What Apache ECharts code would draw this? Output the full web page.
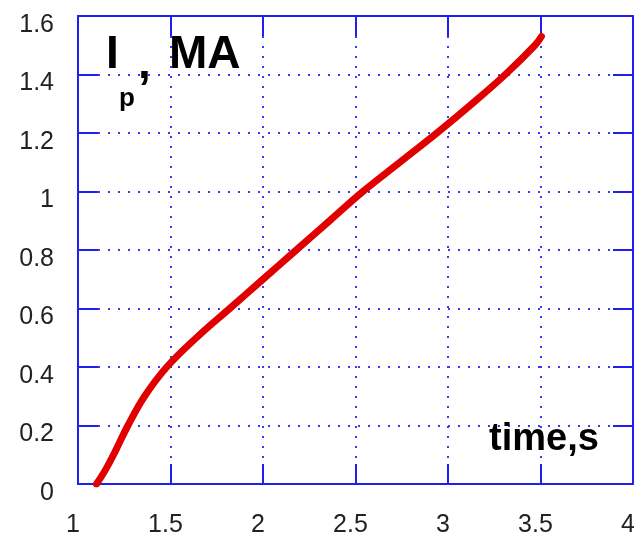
<!DOCTYPE html>
<html>
<head>
<meta charset="utf-8">
<style>
  html, body { margin: 0; padding: 0; background: #fff; }
  #chart { width: 634px; height: 536px; }
</style>
<script src="https://cdn.jsdelivr.net/npm/echarts@6/dist/echarts.min.js"></script>
</head>
<body>
<div id="chart"></div>
<script>
// Plasma current ramp-up: time (s) vs Ip (MA)
const timeS = [1.10, 1.15, 1.20, 1.27, 1.36, 1.48, 1.64, 1.82, 2.00, 2.18, 2.36, 2.54, 2.74, 2.94, 3.13, 3.31, 3.47, 3.505];
const currentMA = [0.00, 0.05, 0.11, 0.20, 0.30, 0.40, 0.50, 0.60, 0.70, 0.80, 0.90, 1.00, 1.10, 1.20, 1.30, 1.40, 1.50, 1.53];

const xTicks = [1, 4, 0.5];     // min, max, step
const yTicks = [0, 1.6, 0.2];   // min, max, step

const seriesData = timeS.map((t, i) => [t, currentMA[i]]);

const axisBlue = '#1f1ff0';
const font = '"Liberation Sans", Arial, sans-serif';

function frameLine() {
  return { show: true, onZero: false, lineStyle: { color: axisBlue, width: 2, opacity: 1 } };
}
function frameTick() {
  return { show: true, inside: true, length: 20, lineStyle: { color: axisBlue, width: 2, opacity: 1 } };
}
function gridDots() {
  return { show: true, lineStyle: { color: '#3a3af5', width: 2, type: [2, 8], opacity: 1 } };
}

const chart = echarts.init(document.getElementById('chart'), null, { renderer: 'canvas' });

chart.setOption({
  animation: false,
  backgroundColor: '#fff',
  grid: { left: 78, right: 1, top: 16, bottom: 52, containLabel: false, outerBoundsMode: 'none' },
  xAxis: [
    {
      type: 'value', position: 'bottom',
      min: xTicks[0], max: xTicks[1], interval: xTicks[2],
      axisLine: frameLine(), axisTick: frameTick(),
      axisLabel: { color: '#222', fontFamily: font, fontSize: 25, margin: 29,
                   padding: [0, 10, 0, 0], hideOverlap: false, formatter: v => String(v) },
      splitLine: gridDots()
    },
    {
      type: 'value', position: 'top',
      min: xTicks[0], max: xTicks[1], interval: xTicks[2],
      axisLine: frameLine(), axisTick: frameTick(),
      axisLabel: { show: false }, splitLine: { show: false }
    }
  ],
  yAxis: [
    {
      type: 'value', position: 'left',
      min: yTicks[0], max: yTicks[1], interval: yTicks[2],
      axisLine: frameLine(), axisTick: frameTick(),
      axisLabel: { color: '#222', fontFamily: font, fontSize: 25, margin: 24,
                   formatter: v => '{v|' + String(Math.round(v * 10) / 10) + '}',
                   rich: { v: { fontFamily: font, fontSize: 25, color: '#222', padding: [18, 0, 0, 0] } } },
      splitLine: gridDots()
    },
    {
      type: 'value', position: 'right',
      min: yTicks[0], max: yTicks[1], interval: yTicks[2],
      axisLine: frameLine(), axisTick: frameTick(),
      axisLabel: { show: false }, splitLine: { show: false }
    }
  ],
  series: [{
    type: 'line',
    data: seriesData,
    smooth: 0.4,
    showSymbol: false,
    lineStyle: { color: '#e00000', width: 7, cap: 'round' },
    z: 5
  }],
  graphic: [
    { type: 'text', left: 106, top: 32, z: 10,
      style: { text: 'I', font: 'bold 46px ' + font, fill: '#000' } },
    { type: 'text', left: 119, top: 86, z: 10,
      style: { text: 'p', font: 'bold 26px ' + font, fill: '#000' } },
    { type: 'text', left: 138, top: 42, z: 10,
      style: { text: ',', font: 'bold 46px ' + font, fill: '#000' } },
    { type: 'text', left: 169, top: 32, z: 10,
      style: { text: 'MA', font: 'bold 46px ' + font, fill: '#000' } },
    { type: 'text', left: 489, top: 421, z: 10,
      style: { text: 'time,s', font: 'bold 38px ' + font, fill: '#000' } }
  ]
});
</script>
</body>
</html>
